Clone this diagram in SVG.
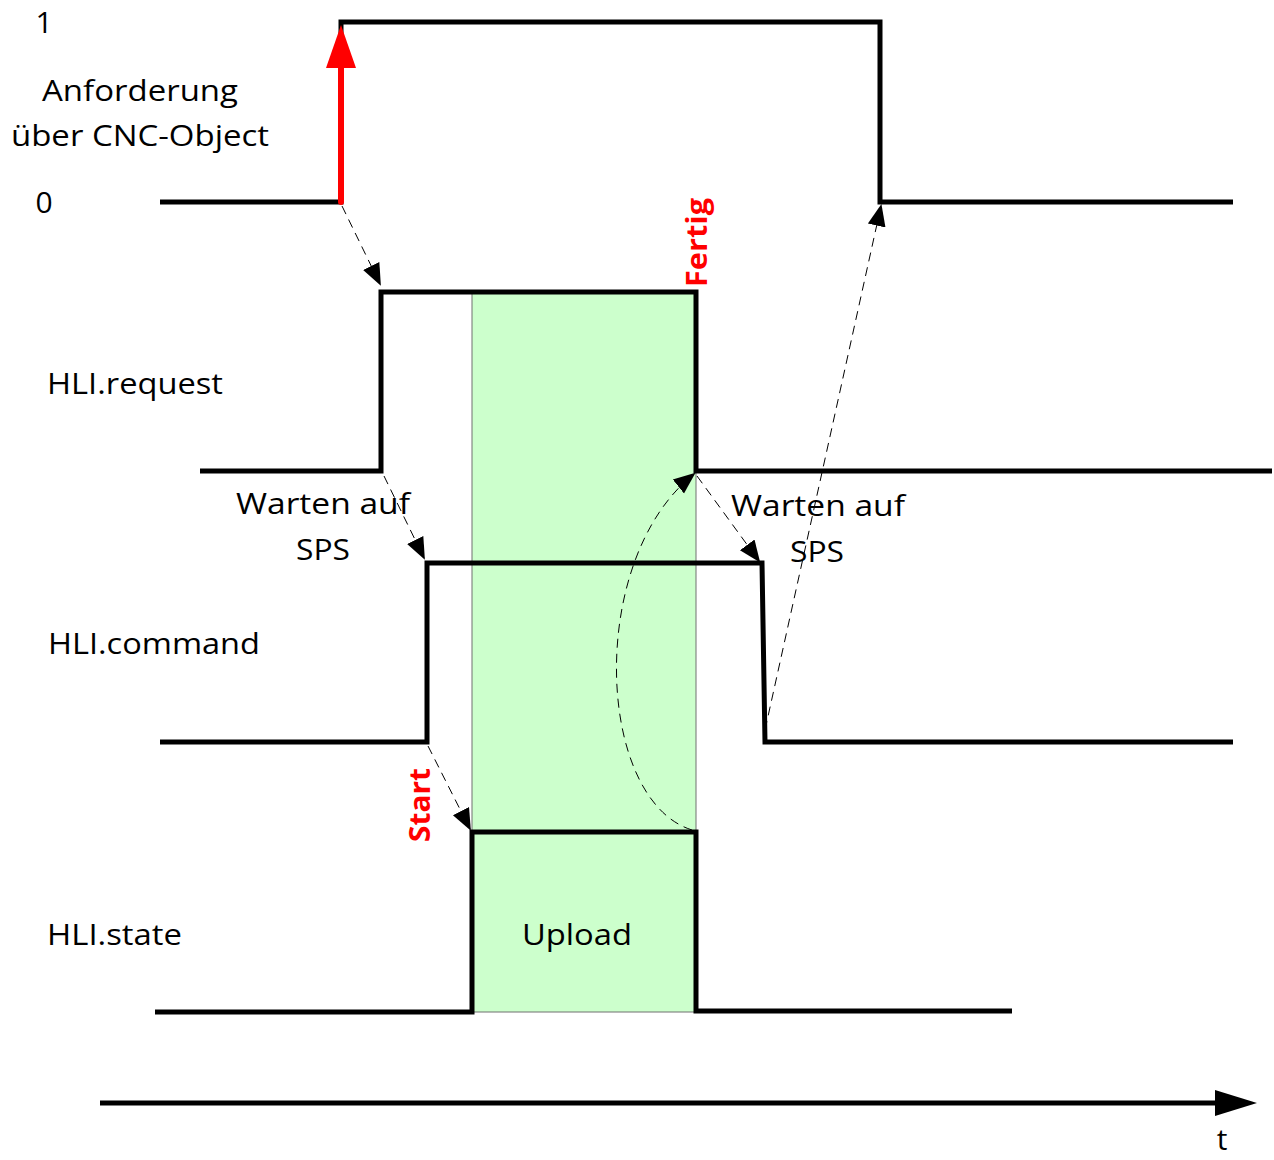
<svg xmlns="http://www.w3.org/2000/svg" width="1274" height="1160" viewBox="0 0 1274 1160">
<style>
.sig{fill:none;stroke:#000;stroke-width:5;stroke-linejoin:miter}
.dash{fill:none;stroke:#000;stroke-width:1;stroke-dasharray:9,6}
.t{font-family:"Open Sans","Noto Sans",sans-serif;font-size:30px;fill:#000}
.r{font-family:"Open Sans","Noto Sans",sans-serif;font-size:28px;font-weight:bold;fill:#ff0000}
</style>
<defs>
<marker id="ah" markerWidth="24" markerHeight="24" refX="20" refY="9" orient="auto" markerUnits="userSpaceOnUse" viewBox="0 0 24 18">
<path d="M0,0 L22,9 L0,18 Z" fill="#000"/>
</marker>
</defs>
<rect id="upload-zone" x="472" y="292" width="224" height="720" fill="#ccffcc" stroke="#707070" stroke-width="1"/>
<g id="signal-cnc">
<polyline class="sig" points="160,202 341,202 341,22 880,22 880,202 1233,202"/>
<line x1="341" y1="202" x2="341" y2="66" stroke="#ff0000" stroke-width="6" stroke-linecap="round"/>
<polygon points="326,68 356,68 341,25" fill="#ff0000"/>
<text class="t" x="44" y="33" text-anchor="middle">1</text>
<text class="t" x="44" y="213" text-anchor="middle">0</text>
<text class="t" x="140" y="101" text-anchor="middle" textLength="196" lengthAdjust="spacingAndGlyphs">Anforderung</text>
<text class="t" x="140" y="146" text-anchor="middle" textLength="258" lengthAdjust="spacingAndGlyphs">über CNC-Object</text>
</g>
<g id="signal-request">
<polyline class="sig" points="200,471 381,471 381,292 696,292 696,471 1272,471"/>
<text class="t" x="47" y="394" textLength="176" lengthAdjust="spacingAndGlyphs">HLI.request</text>
<text class="r" transform="translate(707,287) rotate(-90)" textLength="89" lengthAdjust="spacingAndGlyphs">Fertig</text>
</g>
<g id="signal-command">
<polyline class="sig" points="160,742 427,742 427,563 762,563 765,742 1233,742"/>
<text class="t" x="48" y="654" textLength="212" lengthAdjust="spacingAndGlyphs">HLI.command</text>
<text class="t" x="323" y="514" text-anchor="middle" textLength="174" lengthAdjust="spacingAndGlyphs">Warten auf</text>
<text class="t" x="323" y="560" text-anchor="middle" textLength="54" lengthAdjust="spacingAndGlyphs">SPS</text>
<text class="t" x="818" y="516" text-anchor="middle" textLength="174" lengthAdjust="spacingAndGlyphs">Warten auf</text>
<text class="t" x="817" y="562" text-anchor="middle" textLength="54" lengthAdjust="spacingAndGlyphs">SPS</text>
</g>
<g id="signal-state">
<polyline class="sig" points="155,1012 472,1012 472,832 696,832 696,1011 1012,1011"/>
<text class="t" x="47" y="945" textLength="135" lengthAdjust="spacingAndGlyphs">HLI.state</text>
<text class="t" x="577" y="945" text-anchor="middle" textLength="110" lengthAdjust="spacingAndGlyphs">Upload</text>
<text class="r" transform="translate(430,842) rotate(-90)" textLength="74" lengthAdjust="spacingAndGlyphs">Start</text>
</g>
<g id="time-axis">
<line x1="100" y1="1103" x2="1216" y2="1103" stroke="#000" stroke-width="5"/>
<polygon points="1215,1090 1257,1103 1215,1116" fill="#000"/>
<text class="t" x="1222" y="1150" text-anchor="middle">t</text>
</g>
<g id="connectors">
<line class="dash" x1="342" y1="206" x2="380" y2="284" marker-end="url(#ah)"/>
<line class="dash" x1="384" y1="476" x2="424" y2="558" marker-end="url(#ah)"/>
<line class="dash" x1="428" y1="746" x2="470" y2="829" marker-end="url(#ah)"/>
<line class="dash" x1="697" y1="476" x2="759" y2="561" marker-end="url(#ah)"/>
<line class="dash" x1="765" y1="730" x2="881" y2="206" marker-end="url(#ah)"/>
<path class="dash" d="M692,830 C596,800 586,560 694,474" marker-end="url(#ah)"/>
</g>
</svg>
